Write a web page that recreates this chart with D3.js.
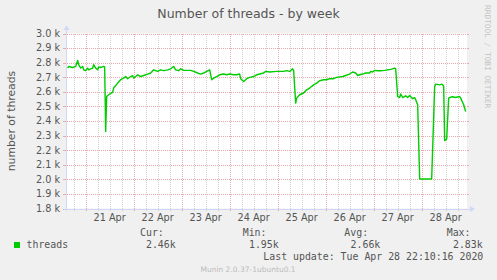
<!DOCTYPE html>
<html><head><meta charset="utf-8">
<script src="https://cdn.jsdelivr.net/npm/d3@7"></script>
<style>
html,body{margin:0;padding:0;background:#F0F0F0;}
svg{display:block;}
</style></head><body>
<svg id="chart" width="497" height="280"></svg>
<script>
const title = "Number of threads - by week";
const yAxisTitle = "number of threads";
const seriesName = "threads";
const times = [
"2020-04-20T15:00","2020-04-20T15:30","2020-04-20T17:30","2020-04-20T19:00","2020-04-20T20:00","2020-04-20T20:30","2020-04-20T21:30","2020-04-20T22:30","2020-04-20T23:00",
"2020-04-21T00:00","2020-04-21T01:00","2020-04-21T01:30","2020-04-21T02:30","2020-04-21T03:30","2020-04-21T04:00","2020-04-21T05:00","2020-04-21T06:00","2020-04-21T06:30","2020-04-21T07:30","2020-04-21T09:00","2020-04-21T09:30","2020-04-21T10:00","2020-04-21T10:30","2020-04-21T11:30","2020-04-21T13:30","2020-04-21T14:00","2020-04-21T16:00","2020-04-21T17:30","2020-04-21T19:00","2020-04-21T20:00","2020-04-21T21:00","2020-04-21T22:30","2020-04-21T23:30",
"2020-04-22T00:00","2020-04-22T01:00","2020-04-22T02:00","2020-04-22T03:30","2020-04-22T05:00","2020-04-22T07:00","2020-04-22T08:30","2020-04-22T10:00","2020-04-22T12:00","2020-04-22T13:30","2020-04-22T15:00","2020-04-22T17:00","2020-04-22T18:30","2020-04-22T20:00","2020-04-22T21:00","2020-04-22T22:30","2020-04-22T23:30",
"2020-04-23T01:00","2020-04-23T04:30","2020-04-23T06:00","2020-04-23T08:00","2020-04-23T09:30","2020-04-23T11:00","2020-04-23T12:30","2020-04-23T14:00","2020-04-23T15:00","2020-04-23T16:00","2020-04-23T17:30","2020-04-23T19:00","2020-04-23T21:00","2020-04-23T22:30",
"2020-04-24T00:00","2020-04-24T02:00","2020-04-24T03:30","2020-04-24T05:00","2020-04-24T05:30","2020-04-24T07:00","2020-04-24T08:30","2020-04-24T10:00","2020-04-24T12:00","2020-04-24T13:30","2020-04-24T15:00","2020-04-24T17:00","2020-04-24T18:00","2020-04-24T20:00","2020-04-24T23:30",
"2020-04-25T03:00","2020-04-25T04:30","2020-04-25T06:00","2020-04-25T07:30","2020-04-25T08:00","2020-04-25T09:00","2020-04-25T09:30","2020-04-25T11:00","2020-04-25T13:00","2020-04-25T14:30","2020-04-25T16:00","2020-04-25T18:00","2020-04-25T19:30","2020-04-25T21:00","2020-04-25T23:00",
"2020-04-26T00:30","2020-04-26T02:00","2020-04-26T04:00","2020-04-26T05:30","2020-04-26T08:30","2020-04-26T10:00","2020-04-26T12:00","2020-04-26T13:30","2020-04-26T15:00","2020-04-26T16:00","2020-04-26T17:00","2020-04-26T18:30","2020-04-26T20:00","2020-04-26T22:00","2020-04-26T22:30","2020-04-26T23:30",
"2020-04-27T00:30","2020-04-27T02:00","2020-04-27T03:30","2020-04-27T05:30","2020-04-27T07:00","2020-04-27T08:30","2020-04-27T10:30","2020-04-27T11:00","2020-04-27T12:00","2020-04-27T13:00","2020-04-27T13:30","2020-04-27T14:30","2020-04-27T16:00","2020-04-27T17:00","2020-04-27T18:00","2020-04-27T19:30","2020-04-27T20:30","2020-04-27T21:00","2020-04-27T22:00","2020-04-27T23:00",
"2020-04-28T02:00","2020-04-28T05:00","2020-04-28T06:30","2020-04-28T07:00","2020-04-28T09:00","2020-04-28T10:00","2020-04-28T11:00","2020-04-28T11:30","2020-04-28T12:30","2020-04-28T13:30","2020-04-28T14:00","2020-04-28T15:30","2020-04-28T17:00","2020-04-28T19:00","2020-04-28T19:30","2020-04-28T21:00","2020-04-28T22:00"
];
const threads = [
2763,2774,2767,2774,2815,2786,2763,2774,2751,
2745,2763,2751,2758,2763,2786,2763,2751,2770,2767,2774,2771,2328,2568,2580,2598,2626,2660,2683,2694,2705,2690,2705,2712,
2694,2705,2717,2705,2712,2722,2729,2751,2740,2751,2745,2751,2758,2774,2751,2745,2758,
2747,2747,2740,2729,2722,2729,2740,2751,2683,2694,2705,2717,2722,2717,
2722,2717,2717,2722,2690,2671,2690,2699,2705,2717,2722,2729,2740,2736,2740,
2740,2745,2740,2758,2745,2523,2557,2580,2592,2614,2626,2648,2660,2676,2683,
2683,2690,2690,2699,2705,2712,2722,2736,2729,2712,2717,2722,2729,2729,2740,2736,
2747,2745,2745,2747,2751,2754,2763,2758,2568,2561,2585,2561,2573,2561,2575,2553,2561,2546,2511,2002,
2002,2002,2637,2653,2648,2653,2640,2266,2275,2557,2561,2566,2561,2568,2557,2511,2465
];
const yTickValues = [1800,1900,2000,2100,2200,2300,2400,2500,2600,2700,2800,2900,3000];
const legendHeaders = ["Cur:","Min:","Avg:","Max:"];
const legendValues = ["2.46k","1.95k","2.66k","2.83k"];
const lastUpdate = "Last update: Tue Apr 28 22:10:16 2020";
const footer = "Munin 2.0.37-1ubuntu0.1";
const watermark = "RRDTOOL / TOBI OETIKER";

const parse = d3.utcParse("%Y-%m-%dT%H:%M");
const data = times.map((t,i)=>({t:parse(t), v:threads[i]}));

const svg = d3.select("#chart");
const W = 497, H = 280;
const X0 = 67, X1 = 467, Y0 = 208.5, Y1 = 33.5;
const FONT = "DejaVu Sans, sans-serif";
const MONO = "DejaVu Sans Mono, monospace";
const TXT = "#555";

svg.append("rect").attr("width",W).attr("height",H).attr("fill","#F0F0F0");
svg.append("rect").attr("x",X0).attr("y",Y1).attr("width",X1-X0).attr("height",Y0-Y1).attr("fill","#FFFFFF");

const x = d3.scaleUtc().domain([parse("2020-04-20T14:40"), parse("2020-04-28T22:40")]).range([X0, X1]);
const y = d3.scaleLinear().domain([1800,3000]).range([Y0, Y1]);

const grid = svg.append("g").attr("shape-rendering","crispEdges");
const minor = d3.utcHour.every(6).range(x.domain()[0], x.domain()[1]).filter(d=>d.getUTCHours()!==0);
const major = d3.utcDay.range(x.domain()[0], x.domain()[1]);
const MINC = "#d0d0d0", MAJC = "#eaa8a8";
minor.forEach(d=>{
  const px = Math.round(x(d))+0.5;
  grid.append("line").attr("x1",px).attr("x2",px).attr("y1",Y1).attr("y2",Y0).attr("stroke",MINC).attr("stroke-dasharray","1,1");
  grid.append("line").attr("x1",px).attr("x2",px).attr("y1",Y0).attr("y2",Y0+2).attr("stroke",MINC);
});
major.forEach(d=>{
  const px = Math.round(x(d))+0.5;
  grid.append("line").attr("x1",px).attr("x2",px).attr("y1",Y1).attr("y2",Y0).attr("stroke",MAJC).attr("stroke-dasharray","1,1");
  grid.append("line").attr("x1",px).attr("x2",px).attr("y1",Y0).attr("y2",Y0+2).attr("stroke",MAJC);
});
yTickValues.forEach(v=>{
  const py = Math.round(y(v))+0.5;
  grid.append("line").attr("x1",X0).attr("x2",X1).attr("y1",py).attr("y2",py).attr("stroke",MAJC).attr("stroke-dasharray","1,1");
  grid.append("line").attr("x1",X0-4).attr("x2",X0-1).attr("y1",py).attr("y2",py).attr("stroke",MAJC);
  grid.append("line").attr("x1",X1).attr("x2",X1+2).attr("y1",py).attr("y2",py).attr("stroke",MAJC);
});

const line = d3.line().x(d=>x(d.t)).y(d=>y(d.v));
svg.append("path").datum(data).attr("d",line).attr("fill","none").attr("stroke","#00CC00").attr("stroke-width",1.4).attr("stroke-linejoin","round");

const AX = "#CFD6F8";
svg.append("line").attr("x1",X0-0.5).attr("x2",X0-0.5).attr("y1",Y0+2).attr("y2",Y1-5).attr("stroke",AX).attr("shape-rendering","crispEdges");
svg.append("line").attr("x1",X0-3).attr("x2",X1+4).attr("y1",Y0+0.5).attr("y2",Y0+0.5).attr("stroke",AX).attr("shape-rendering","crispEdges");
svg.append("path").attr("d",`M${X0-3.5},${Y1-3.5} L${X0+2.5},${Y1-3.5} L${X0-0.5},${Y1-8} Z`).attr("fill",AX);
svg.append("path").attr("d",`M${X1+3},${Y0-2.5} L${X1+3},${Y0+3.5} L${X1+8},${Y0+0.5} Z`).attr("fill",AX);

const yfmt = v => (v/1000).toFixed(1)+" k";
svg.append("g").selectAll("text").data(yTickValues).join("text")
  .attr("x",60).attr("y",d=>y(d)).attr("dy","0.35em").attr("text-anchor","end")
  .attr("font-family",FONT).attr("font-size",9.7).attr("fill",TXT).text(yfmt);

const xfmt = d3.utcFormat("%d %b");
const labelDays = d3.utcDay.range(parse("2020-04-21T00:00"), parse("2020-04-29T00:00"));
svg.append("g").selectAll("text").data(labelDays).join("text")
  .attr("x",d=>x(d3.utcHour.offset(d,12))).attr("y",220.5).attr("text-anchor","middle")
  .attr("font-family",FONT).attr("font-size",9.7).attr("fill",TXT).text(xfmt);

svg.append("text").attr("x",248.5).attr("y",18).attr("text-anchor","middle")
  .attr("font-family",FONT).attr("font-size",12.5).attr("fill",TXT).text(title);
svg.append("text").attr("transform",`translate(14.5,${(Y0+Y1)/2}) rotate(-90)`).attr("text-anchor","middle")
  .attr("font-family",FONT).attr("font-size",10.8).attr("fill",TXT).text(yAxisTitle);
svg.append("text").attr("transform",`translate(484.5,5) rotate(90)`).attr("text-anchor","start")
  .attr("font-family",MONO).attr("font-size",7.8).attr("fill","#c4c4c4").text(watermark);

svg.append("rect").attr("x",14).attr("y",242).attr("width",6).attr("height",6).attr("fill","#00CC00");
svg.append("text").attr("x",26.5).attr("y",247.5).attr("font-family",MONO).attr("font-size",9.9).attr("fill",TXT).text(seriesName);
const hx = [140,242.7,344.3,446.7];
const vx = [175.7,278.7,380.3,482.7];
legendHeaders.forEach((h,i)=>{
  svg.append("text").attr("x",hx[i]).attr("y",236).attr("font-family",MONO).attr("font-size",9.9).attr("fill",TXT).text(h);
  svg.append("text").attr("x",vx[i]).attr("y",247.5).attr("text-anchor","end").attr("font-family",MONO).attr("font-size",9.9).attr("fill",TXT).text(legendValues[i]);
});
svg.append("text").attr("x",483.3).attr("y",259.5).attr("text-anchor","end").attr("font-family",MONO).attr("font-size",9.9).attr("fill",TXT).text(lastUpdate);
svg.append("text").attr("x",248).attr("y",271.5).attr("text-anchor","middle").attr("font-family",FONT).attr("font-size",7.5).attr("fill","#bbbbbb").text(footer);
</script>
</body></html>
